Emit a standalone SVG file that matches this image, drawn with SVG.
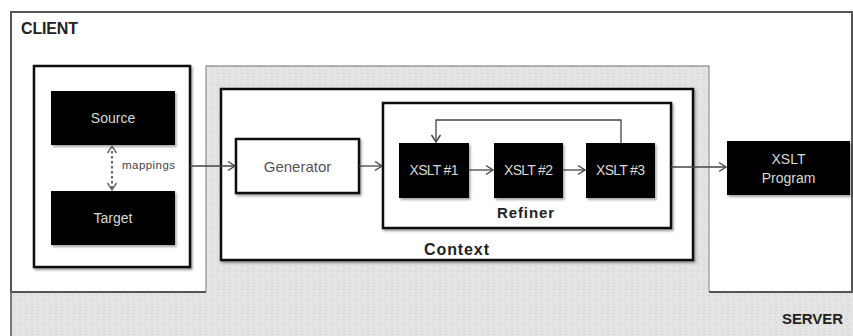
<svg xmlns="http://www.w3.org/2000/svg" width="853" height="336" viewBox="0 0 853 336">
<defs>
<marker id="arr" markerWidth="12" markerHeight="12" refX="9" refY="6" orient="auto" markerUnits="userSpaceOnUse">
<path d="M2,1.5 L9,6 L2,10.5" fill="none" stroke="#444" stroke-width="1.4"/>
</marker>
<marker id="arrs" markerWidth="12" markerHeight="12" refX="9" refY="6" orient="auto-start-reverse" markerUnits="userSpaceOnUse">
<path d="M2,1.5 L9,6 L2,10.5" fill="none" stroke="#666" stroke-width="1.4"/>
</marker>
<pattern id="stip" width="6" height="6" patternUnits="userSpaceOnUse">
<rect width="6" height="6" fill="#e3e3e3"/>
<rect x="1" y="1" width="1" height="1" fill="#cfcfcf"/>
<rect x="4" y="3" width="1" height="1" fill="#f2f2f2"/>
<rect x="2" y="4" width="1" height="1" fill="#d2d2d2"/>
</pattern>
<filter id="sh" x="-5%" y="-5%" width="115%" height="120%">
<feDropShadow dx="1.5" dy="2" stdDeviation="1" flood-color="#000" flood-opacity="0.35"/>
</filter>
</defs>
<style>
.lbl{font-family:"Liberation Sans",Arial,sans-serif;}
.w{fill:#d8d8d8;font-size:14px;text-anchor:middle;}
.b{font-weight:bold;fill:#222;}
.blk{fill:#000;filter:url(#sh);}
.box{fill:#fff;stroke:#111;stroke-width:2.5;filter:url(#sh);}
.con{fill:none;stroke:#444;stroke-width:1.3;}
</style>
<rect x="0" y="0" width="853" height="336" fill="#fff"/>
<g id="server">
<rect x="11" y="12" width="842" height="324" fill="url(#stip)"/>
<text class="lbl b" x="782" y="324" font-size="15" textLength="61">SERVER</text>
</g>
<g id="client">
<path d="M11,12 H852 V292 H709 V66 H206 V292 H11 Z" fill="#fff"/>
<path d="M709,292 V66 H206 V292" fill="none" stroke="#999" stroke-width="1.3"/>
<path d="M206,292 H11 V12 H852 V292 H709" fill="none" stroke="#555" stroke-width="2"/>
<line x1="11" y1="292" x2="11" y2="336" stroke="#777" stroke-width="2"/>
<text class="lbl b" x="21" y="34" font-size="16" textLength="57">CLIENT</text>
</g>
<g id="schemas">
<rect class="box" x="34" y="66" width="156" height="201"/>
</g>
<g id="source">
<rect class="blk" x="51" y="91" width="124" height="54"/>
<text class="lbl w" x="113" y="123" font-size="15">Source</text>
</g>
<g id="target">
<rect class="blk" x="51" y="191" width="124" height="54"/>
<text class="lbl w" x="113" y="223" font-size="15">Target</text>
</g>
<g id="context">
<rect class="box" x="221" y="89" width="472" height="171"/>
<text class="lbl b" x="424" y="255" font-size="16" textLength="65">Context</text>
</g>
<g id="generator">
<rect class="box" x="236" y="139" width="123" height="54" stroke-width="2"/>
<text class="lbl" x="297.5" y="172" font-size="15" fill="#555" text-anchor="middle">Generator</text>
</g>
<g id="refiner">
<rect class="box" x="383" y="103" width="288" height="125"/>
<text class="lbl b" x="497" y="218" font-size="15" textLength="57">Refiner</text>
</g>
<g id="xslt1">
<rect class="blk" x="399" y="143" width="70" height="55"/>
<text class="lbl w" x="434" y="175" textLength="49">XSLT #1</text>
</g>
<g id="xslt2">
<rect class="blk" x="494" y="143" width="69" height="55"/>
<text class="lbl w" x="528.5" y="175" textLength="49">XSLT #2</text>
</g>
<g id="xslt3">
<rect class="blk" x="586" y="143" width="69" height="55"/>
<text class="lbl w" x="620.5" y="175" textLength="49">XSLT #3</text>
</g>
<g id="program">
<rect class="blk" x="727" y="141" width="123" height="54"/>
<text class="lbl w" x="788.5" y="164" font-size="14">XSLT</text>
<text class="lbl w" x="788.5" y="183" font-size="14">Program</text>
</g>
<g id="connectors">
<line x1="112" y1="146" x2="112" y2="190" stroke="#666" stroke-width="2" stroke-dasharray="2.5,2.5" marker-start="url(#arrs)" marker-end="url(#arrs)"/>
<text class="lbl" x="122" y="169" font-size="11.5" fill="#444" textLength="53">mappings</text>
<line class="con" x1="190" y1="166" x2="235" y2="166" marker-end="url(#arr)"/>
<line class="con" x1="359" y1="166" x2="382" y2="166" marker-end="url(#arr)"/>
<line class="con" x1="469" y1="170" x2="493" y2="170" marker-end="url(#arr)"/>
<line class="con" x1="563" y1="170" x2="585" y2="170" marker-end="url(#arr)"/>
<path class="con" d="M621,143 V120 H436 V142" marker-end="url(#arr)"/>
<line class="con" x1="671" y1="167" x2="726" y2="167" marker-end="url(#arr)"/>
</g>
</svg>
